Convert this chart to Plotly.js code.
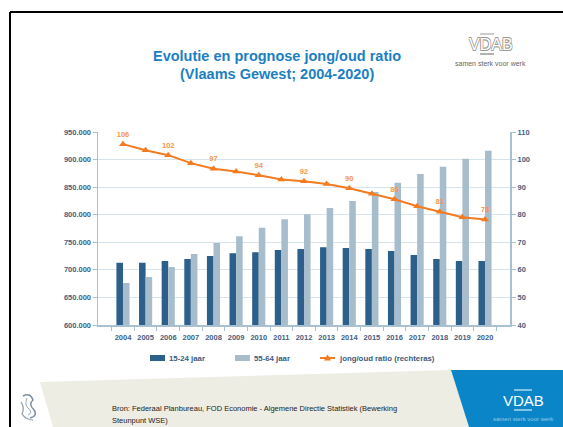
<!DOCTYPE html>
<html>
<head>
<meta charset="utf-8">
<script src="https://cdn.plot.ly/plotly-3.0.1.min.js"></script>
<style>
html,body{margin:0;padding:0;background:#fff;}
#chart{width:563px;height:427px;}
</style>
</head>
<body>
<div id="chart"></div>
<script>
// ---- data ----
var years = ['2004','2005','2006','2007','2008','2009','2010','2011','2012','2013','2014','2015','2016','2017','2018','2019','2020'];
var young = [713000,713000,716000,719500,725000,730000,732000,736000,737700,741000,739500,737700,734000,727000,719500,716000,716000];
var old = [676000,687000,705000,728600,748600,761000,776500,792000,801000,812000,825000,841000,858000,874000,887000,901500,916000];
var ratio = [105.6,103.4,101.6,98.7,96.7,95.7,94.3,92.8,92.1,91.1,89.6,87.6,85.6,83.1,81.1,79.1,78.3];
var seriesNames = ['15-24 jaar','55-64 jaar','jong/oud ratio (rechteras)'];
var seriesColors = ['#2c5f8a','#a7bdcc','#f47b20'];
var titleLines = ['Evolutie en prognose jong/oud ratio','(Vlaams Gewest; 2004-2020)'];
var sourceLines = ['Bron: Federaal Planbureau, FOD Economie - Algemene Directie Statistiek (Bewerking','Steunpunt WSE)'];

// ---- layout geometry (pixels) ----
var W = 563, H = 427;
var L = 98, R = 510, T = 132, B = 325;
function px(x){ return (x - L) / (R - L); }
function py(y){ return (B - y) / (B - T); }
function poly(pts){
  return 'M' + pts.map(function(p){ return px(p[0]).toFixed(4) + ',' + py(p[1]).toFixed(4); }).join(' L') + ' Z';
}
var FONT = 'Liberation Sans, Arial, sans-serif';
var tickFont = {family:FONT, size:7.5, color:'#44607f', weight:'bold'};

var ratioText = ratio.map(function(v,i){ return i % 2 === 0 ? String(Math.round(v)) : ''; });

var traces = [
  {type:'bar', name:seriesNames[0], x:years, y:young, marker:{color:seriesColors[0]}, yaxis:'y', hoverinfo:'skip', showlegend:false},
  {type:'bar', name:seriesNames[1], x:years, y:old, marker:{color:seriesColors[1]}, yaxis:'y', hoverinfo:'skip', showlegend:false},
  {type:'scatter', mode:'lines+markers+text', name:seriesNames[2], x:years, y:ratio, yaxis:'y2',
   line:{color:seriesColors[2], width:2}, marker:{symbol:'triangle-up', size:7, color:seriesColors[2]},
   text:ratioText, textposition:'top center',
   textfont:{family:FONT, size:7.5, color:'#f79646', weight:'bold'},
   cliponaxis:false, hoverinfo:'skip', showlegend:false}
];

// legend (drawn)
var legX = [150, 235, 320];
var legY = 358;
var shapes = [
  // slide frame
  {type:'line', xref:'paper', yref:'paper', x0:px(10), y0:py(12), x1:px(563), y1:py(12), line:{color:'#000', width:2}},
  {type:'line', xref:'paper', yref:'paper', x0:px(10), y0:py(12), x1:px(10), y1:py(427), line:{color:'#000', width:2}},
  // footer bands
  {type:'path', xref:'paper', yref:'paper', path:poly([[40,382],[451,370],[469,427],[53,427]]), fillcolor:'#eeede3', line:{width:0}, layer:'below'},
  {type:'path', xref:'paper', yref:'paper', path:poly([[451,370],[563,370],[563,427],[469,427]]), fillcolor:'#0a85c8', line:{width:0}, layer:'below'},
  // VDAB white bars in footer logo
  {type:'line', xref:'paper', yref:'paper', x0:px(514), y0:py(390), x1:px(532), y1:py(390), line:{color:'#fff', width:1}},
  {type:'line', xref:'paper', yref:'paper', x0:px(514), y0:py(410), x1:px(532), y1:py(410), line:{color:'#fff', width:1}},
  // top logo lines
  {type:'line', xref:'paper', yref:'paper', x0:px(480), y0:py(34), x1:px(494), y1:py(34), line:{color:'#999', width:1}},
  {type:'line', xref:'paper', yref:'paper', x0:px(480), y0:py(54), x1:px(494), y1:py(54), line:{color:'#999', width:1.5}},
  // simple lion mark
  {type:'path', xref:'paper', yref:'paper', path:'M'+px(23)+','+py(396)+' Q'+px(30)+','+py(392)+' '+px(33)+','+py(400)+' Q'+px(28)+','+py(404)+' '+px(34)+','+py(410)+' Q'+px(38)+','+py(416)+' '+px(30)+','+py(418), line:{color:'#7d8da0', width:1.5}},
  {type:'path', xref:'paper', yref:'paper', path:'M'+px(21)+','+py(402)+' Q'+px(25)+','+py(408)+' '+px(22)+','+py(414)+' Q'+px(26)+','+py(420)+' '+px(33)+','+py(420), line:{color:'#8a9aac', width:1.2}},
  {type:'path', xref:'paper', yref:'paper', path:'M'+px(27)+','+py(398)+' Q'+px(24)+','+py(405)+' '+px(29)+','+py(409)+' Q'+px(33)+','+py(413)+' '+px(28)+','+py(415), line:{color:'#98a8b8', width:1}},
  // legend swatches
  {type:'rect', xref:'paper', yref:'paper', x0:px(legX[0]), x1:px(legX[0]+15), y0:py(legY-3), y1:py(legY+3), fillcolor:seriesColors[0], line:{width:0}},
  {type:'rect', xref:'paper', yref:'paper', x0:px(legX[1]), x1:px(legX[1]+15), y0:py(legY-3), y1:py(legY+3), fillcolor:seriesColors[1], line:{width:0}},
  {type:'line', xref:'paper', yref:'paper', x0:px(legX[2]), x1:px(legX[2]+15), y0:py(legY), y1:py(legY), line:{color:seriesColors[2], width:2}},
  {type:'path', xref:'paper', yref:'paper', path:poly([[legX[2]+7.5,legY-3.5],[legX[2]+11,legY+2.5],[legX[2]+4,legY+2.5]]), fillcolor:seriesColors[2], line:{width:0}}
];

var ann = [
  {xref:'paper', yref:'paper', x:px(277), y:py(56), text:'<b>'+titleLines[0]+'</b>', showarrow:false, xanchor:'center', yanchor:'middle',
   font:{family:FONT, size:14.5, color:'#1b80c2'}},
  {xref:'paper', yref:'paper', x:px(277), y:py(74), text:'<b>'+titleLines[1]+'</b>', showarrow:false, xanchor:'center', yanchor:'middle',
   font:{family:FONT, size:14.5, color:'#1b80c2'}},
  {xref:'paper', yref:'paper', x:px(491), y:py(45), text:'VDAB', showarrow:false, xanchor:'center', yanchor:'middle',
   font:{family:FONT, size:16, color:'#ffffff',
   shadow:'-0.6px -0.6px 0 #999, 0.6px -0.6px 0 #999, -0.6px 0.6px 0 #999, 0.6px 0.6px 0 #999'}},
  {xref:'paper', yref:'paper', x:px(490), y:py(63), text:'samen sterk voor werk', showarrow:false, xanchor:'center', yanchor:'middle',
   font:{family:FONT, size:7, color:'#666'}},
  {xref:'paper', yref:'paper', x:px(110), y:py(408), text:sourceLines[0], showarrow:false, xanchor:'left', yanchor:'middle',
   font:{family:FONT, size:7.5, color:'#222'}},
  {xref:'paper', yref:'paper', x:px(110), y:py(420), text:sourceLines[1], showarrow:false, xanchor:'left', yanchor:'middle',
   font:{family:FONT, size:7.5, color:'#222'}},
  {xref:'paper', yref:'paper', x:px(523), y:py(400), text:'VDAB', showarrow:false, xanchor:'center', yanchor:'middle',
   font:{family:FONT, size:15, color:'#ffffff'}},
  {xref:'paper', yref:'paper', x:px(523), y:py(419), text:'samen sterk voor werk', showarrow:false, xanchor:'center', yanchor:'middle',
   font:{family:FONT, size:6, color:'#9cc8e6'}}
];
seriesNames.forEach(function(n, i){
  ann.push({xref:'paper', yref:'paper', x:px(legX[i]+17), y:py(legY), text:n, showarrow:false, xanchor:'left', yanchor:'middle',
    font:{family:FONT, size:7.8, color:'#3c5a7c', weight:'bold'}});
});

var layout = {
  width:W, height:H,
  margin:{l:L, r:W-R, t:T, b:H-B, pad:0},
  paper_bgcolor:'#ffffff', plot_bgcolor:'#ffffff',
  separators:',.',
  barmode:'group', bargap:0.42, bargroupgap:0,
  showlegend:false,
  xaxis:{type:'category', tickfont:tickFont, tickangle:0, ticklabelstandoff:4, showgrid:false, showline:true, linecolor:'#a9c0d0', linewidth:1.5,
    ticks:'outside', tickson:'boundaries', ticklen:4, tickcolor:'#a9c0d0', zeroline:false, fixedrange:true},
  yaxis:{range:[600000,950000], dtick:50000, tickformat:',d', tickfont:tickFont, showgrid:true, gridcolor:'#d6e4ed', gridwidth:1,
    showline:true, linecolor:'#a9c0d0', linewidth:1.5, ticks:'outside', ticklen:4, tickcolor:'#a9c0d0', zeroline:false, fixedrange:true},
  yaxis2:{range:[40,110], dtick:10, overlaying:'y', side:'right', tickfont:tickFont, showgrid:false,
    showline:true, linecolor:'#a9c0d0', linewidth:2, ticks:'outside', ticklen:4, tickcolor:'#a9c0d0', zeroline:false, fixedrange:true},
  shapes:shapes,
  annotations:ann
};

Plotly.newPlot('chart', traces, layout, {displayModeBar:false, staticPlot:true});
</script>
</body>
</html>
